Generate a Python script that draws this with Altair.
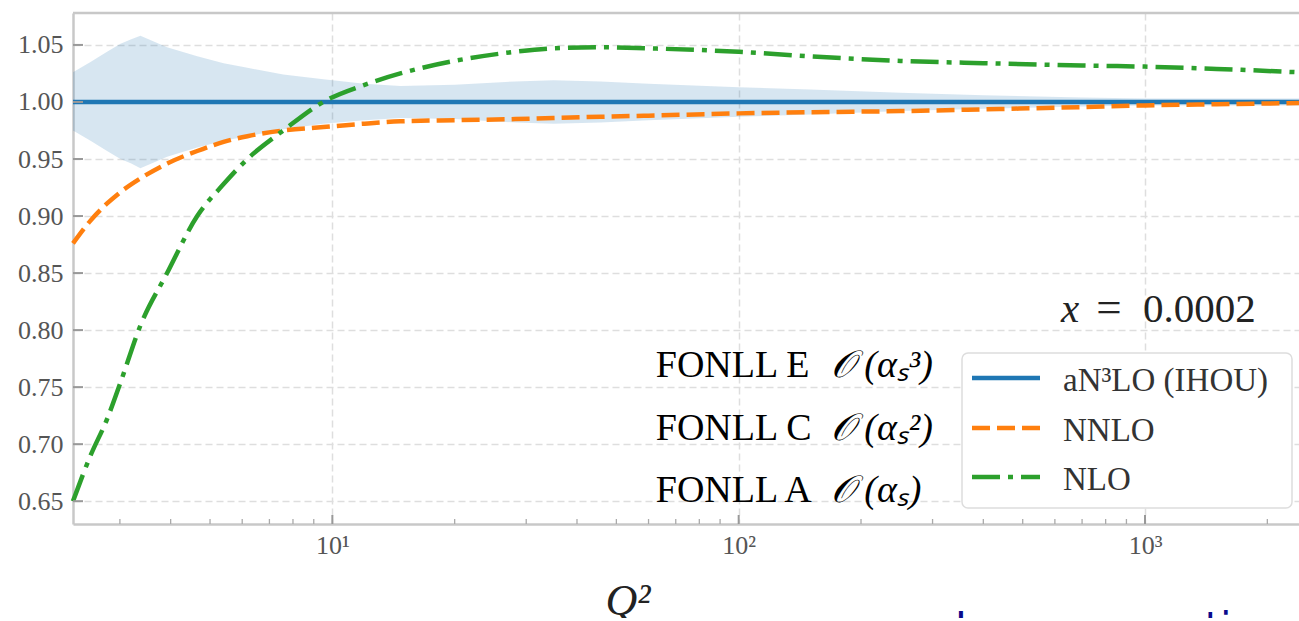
import altair as alt
import pandas as pd

# ---------------- data ----------------
q2 = [2.3, 2.54, 2.79, 3.01, 3.37, 3.92, 4.65, 5.4, 6.18, 7.57, 9.5, 12, 14.7, 20,
      28.2, 35, 45.7, 60, 100, 150, 250, 400, 700, 1000, 1500, 2393]
an3lo = [1.0, 1.0, 1.0, 1.0, 1.0, 1.0, 1.0, 1.0, 1.0, 1.0, 1.0, 1.0, 1.0, 1.0,
         1.0, 1.0, 1.0, 1.0, 1.0, 1.0, 1.0, 1.0, 1.0, 1.0, 1.0, 1.0]
nnlo = [0.876, 0.896, 0.911, 0.921, 0.933, 0.946, 0.957, 0.965, 0.970, 0.975, 0.978,
        0.981, 0.983, 0.984, 0.985, 0.986, 0.987, 0.988, 0.990, 0.991, 0.992, 0.9935,
        0.9955, 0.997, 0.998, 0.999]
nlo = [0.650, 0.690, 0.722, 0.754, 0.804, 0.850, 0.900, 0.928, 0.950, 0.975, 1.000,
       1.015, 1.025, 1.036, 1.044, 1.047, 1.048, 1.047, 1.044, 1.040, 1.036, 1.034,
       1.032, 1.031, 1.029, 1.026]

band_q2 = [2.3, 2.54, 2.79, 3.01, 3.2, 3.37, 3.92, 4.65, 5.4, 6.18, 7.57, 9.5, 12, 14.7,
           20, 28.2, 35, 45.7, 60, 100, 150, 250, 400, 700, 1000, 1500, 2393]
band_hi = [1.026, 1.035, 1.044, 1.051, 1.055, 1.058, 1.048, 1.040, 1.034, 1.030, 1.024,
           1.020, 1.016, 1.014, 1.015, 1.018, 1.019, 1.018, 1.016, 1.013, 1.011, 1.008,
           1.006, 1.004, 1.003, 1.003, 1.003]
band_lo = [0.975, 0.966, 0.957, 0.950, 0.946, 0.942, 0.952, 0.960, 0.966, 0.970, 0.976,
           0.981, 0.984, 0.986, 0.985, 0.982, 0.981, 0.982, 0.984, 0.987, 0.989, 0.992,
           0.994, 0.996, 0.997, 0.997, 0.997]

series_names = ["aN³LO (IHOU)", "NNLO", "NLO"]
series_colors = ["#1f77b4", "#ff7f0e", "#2ca02c"]
series_dashes = [[1, 0], [18, 7], [28, 8, 5, 8]]

y_ticks = [0.65, 0.70, 0.75, 0.80, 0.85, 0.90, 0.95, 1.00, 1.05]
x_major = [10, 100, 1000]
x_major_labels = ["10¹", "10²", "10³"]
x_minor = [3, 4, 5, 6, 7, 8, 9, 20, 30, 40, 50, 60, 70, 80, 90,
           200, 300, 400, 500, 600, 700, 800, 900, 2000]

x_domain = [2.3, 2393]
y_domain = [0.630, 1.078]

ann_left_text = ["FONLL E", "FONLL C", "FONLL A"]
ann_math_text = ["𝒪 (αₛ³)", "𝒪 (αₛ²)", "𝒪 (αₛ)"]
ann_left_q2 = [62.5, 62.5, 62.5]
ann_math_q2 = [168.5, 168.5, 168.5]
ann_v = [0.7589, 0.7036, 0.6493]

xval_parts = ["x", "=", "0.0002"]
xval_q2 = [621, 758, 988]
xval_v = [0.8071, 0.8071, 0.8071]

footer_text = ["Large corrections"]
footer_q2 = [340.8]
footer_v = [0.5274]

# ---------------- tables ----------------
df_lines = pd.DataFrame({
    "q2": q2 * 3,
    "v": an3lo + nnlo + nlo,
    "series": [series_names[0]] * len(q2) + [series_names[1]] * len(q2) + [series_names[2]] * len(q2),
})
df_band = pd.DataFrame({"q2": band_q2, "hi": band_hi, "lo": band_lo})
df_yt = pd.DataFrame({"v": y_ticks})
df_xmaj = pd.DataFrame({"q2": x_major})
df_xmin = pd.DataFrame({"q2": x_minor})
df_ann_l = pd.DataFrame({"q2": ann_left_q2, "v": ann_v, "t": ann_left_text})
df_ann_m = pd.DataFrame({"q2": ann_math_q2, "v": ann_v, "t": ann_math_text})
df_xv1 = pd.DataFrame({"q2": xval_q2[:1], "v": xval_v[:1], "t": xval_parts[:1]})
df_xv2 = pd.DataFrame({"q2": xval_q2[1:2], "v": xval_v[1:2], "t": xval_parts[1:2]})
df_xv3 = pd.DataFrame({"q2": xval_q2[2:], "v": xval_v[2:], "t": xval_parts[2:]})
df_foot = pd.DataFrame({"q2": footer_q2, "v": footer_v, "t": footer_text})
df_one = pd.DataFrame({"k": [0]})

W, H = 1226, 511
SERIF = "Liberation Serif"
FRAME = "#c8c8c8"
GRID = "#dedede"

xs = alt.Scale(type="log", domain=x_domain, nice=False)
ys = alt.Scale(domain=y_domain, nice=False, zero=False)

label_expr = " : ".join(
    f"datum.value == {v} ? '{t}'" for v, t in zip(x_major[:-1], x_major_labels[:-1])
) + f" : '{x_major_labels[-1]}'"

x_axis = alt.Axis(
    values=x_major, labelExpr=label_expr, labelPadding=8,
    labelFont=SERIF, labelFontSize=26, labelColor="#555555",
    title="Q²", titleFont=SERIF, titleFontStyle="italic", titleFontWeight="normal",
    titleFontSize=44, titleColor="#222222", titleAnchor="start", titleAlign="left",
    titleBaseline="alphabetic", titleX=532, titleY=90,
)
y_axis = alt.Axis(values=y_ticks, format=".2f", labelPadding=10, title=None,
                  labelFont=SERIF, labelFontSize=26, labelColor="#555555")

band = alt.Chart(df_band).mark_area(color="#1f77b4", opacity=0.18, interpolate="linear").encode(
    x=alt.X("q2:Q", scale=xs, axis=x_axis),
    y=alt.Y("lo:Q", scale=ys, axis=y_axis),
    y2="hi:Q",
)

lines = alt.Chart(df_lines).mark_line(strokeWidth=4.5, interpolate="monotone").encode(
    x=alt.X("q2:Q", scale=xs),
    y=alt.Y("v:Q", scale=ys),
    color=alt.Color("series:N", scale=alt.Scale(domain=series_names, range=series_colors), legend=None),
    strokeDash=alt.StrokeDash("series:N", scale=alt.Scale(domain=series_names, range=series_dashes), legend=None),
)

ytick = alt.Chart(df_yt).mark_rule(color="#999999", strokeWidth=2).encode(
    y=alt.Y("v:Q", scale=ys), x=alt.value(0), x2=alt.value(10),
)
xmaj = alt.Chart(df_xmaj).mark_rule(color="#999999", strokeWidth=2).encode(
    x=alt.X("q2:Q", scale=xs), y=alt.value(H), y2=alt.value(H - 9),
)
xmin = alt.Chart(df_xmin).mark_rule(color="#aaaaaa", strokeWidth=1.3).encode(
    x=alt.X("q2:Q", scale=xs), y=alt.value(H), y2=alt.value(H - 5),
)
top_border = alt.Chart(df_one).mark_rule(color=FRAME, strokeWidth=2.5).encode(
    x=alt.value(0), x2=alt.value(W), y=alt.value(0),
)


def txt(df, size, color="#000000", style="normal", font=SERIF):
    return alt.Chart(df).mark_text(
        align="left", baseline="alphabetic", fontSize=size, color=color,
        fontStyle=style, font=font,
    ).encode(
        x=alt.X("q2:Q", scale=xs),
        y=alt.Y("v:Q", scale=ys),
        text="t:N",
    )


t1 = txt(df_ann_l, 38)
t2 = txt(df_ann_m, 38, style="italic")
t3 = txt(df_xv1, 41, color="#222222", style="italic")
t4 = txt(df_xv2, 45, color="#222222")
t4b = txt(df_xv3, 41, color="#222222")
t5 = txt(df_foot, 40, color="#0a0a8c", font="DejaVu Sans")

# ---------------- legend (box, sample lines, labels) ----------------
LEG_X0, LEG_X1, LEG_Y0, LEG_Y1 = 889, 1219, 340, 495
ROW_Y = [365, 415, 464]
legend_layers = [
    alt.Chart(df_one).mark_rect(
        fill="white", stroke="#dddddd", strokeWidth=1.5, cornerRadius=6
    ).encode(x=alt.value(LEG_X0), x2=alt.value(LEG_X1), y=alt.value(LEG_Y0), y2=alt.value(LEG_Y1))
]
for name, col, dash, ry in zip(series_names, series_colors, series_dashes, ROW_Y):
    legend_layers.append(
        alt.Chart(df_one).mark_rule(color=col, strokeWidth=4.5, strokeDash=dash).encode(
            x=alt.value(LEG_X0 + 10), x2=alt.value(LEG_X0 + 78), y=alt.value(ry)
        )
    )
    legend_layers.append(
        alt.Chart(df_one).mark_text(
            align="left", baseline="alphabetic", font=SERIF, fontSize=33, color="#333333"
        ).encode(x=alt.value(LEG_X0 + 101), y=alt.value(ry + 13), text=alt.value(name))
    )

chart = alt.layer(
    band, lines, ytick, xmaj, xmin, top_border, t1, t2, t3, t4, t4b, t5, *legend_layers
).properties(
    width=W, height=H,
    padding={"left": 73, "top": 13, "right": 0, "bottom": 94},
    autosize=alt.AutoSizeParams(type="none"),
    background="white",
).configure(
    font=SERIF,
    view=alt.ViewConfig(stroke=None),
    axis=alt.AxisConfig(
        labelFont=SERIF, labelFontSize=26, labelColor="#555555",
        grid=True, gridDash=[7, 4], gridColor=GRID, gridWidth=1.5,
        ticks=False, domain=True, domainColor=FRAME, domainWidth=2.5,
    ),
    style={"guide-label": {"font": SERIF}},
)

chart.save("out.html", embed_options={"renderer": "svg", "actions": False})
